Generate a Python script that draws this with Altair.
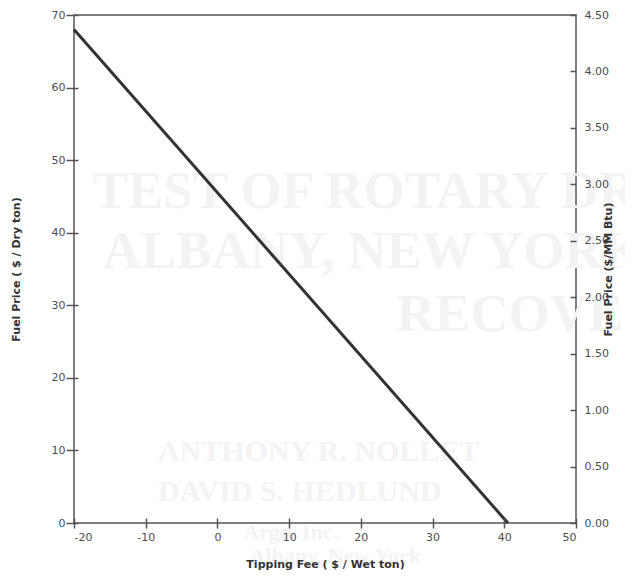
import altair as alt
import pandas as pd

# Line: fuel price vs tipping fee
tipping_fee = [-20, 40.5]
fuel_price_dry_ton = [68, 0]
fuel_price_mmbtu = [4.37, 0.0]

x_ticks = [-20, -10, 0, 10, 20, 30, 40, 50]
y_left_ticks = [0, 10, 20, 30, 40, 50, 60, 70]
y_right_ticks = [0.0, 0.5, 1.0, 1.5, 2.0, 2.5, 3.0, 3.5, 4.0, 4.5]

# faint show-through text of the scanned page
bg_text = ["TEST OF ROTARY DRYER", "ALBANY, NEW YORK", "RECOVERY",
           "ANTHONY R. NOLLET", "DAVID S. HEDLUND", "Argo, Inc.", "Albany, New York"]
bg_x = [-17.4, -16.0, 25.0, -8.3, -8.3, 3.6, 4.5]
bg_y = [45.6, 37.3, 28.7, 9.8, 4.3, -1.2, -4.5]
bg_size = [53, 53, 53, 30, 30, 22, 22]

line_df = pd.DataFrame({"fee": tipping_fee, "dry": fuel_price_dry_ton, "mmbtu": fuel_price_mmbtu})
bg_df = pd.DataFrame({"fee": bg_x, "dry": bg_y, "t": bg_text, "s": bg_size})

LABEL_FONT = "DejaVu Sans"
LABEL_COLOR = "#4d4d4d"
AXIS_COLOR = "#555555"
TITLE_COLOR = "#333333"

x_enc = alt.X(
    "fee:Q",
    scale=alt.Scale(domain=[-20, 50], nice=False, zero=False),
    axis=alt.Axis(
        values=x_ticks, offset=-5, tickSize=10, tickColor=AXIS_COLOR, tickWidth=1.5,
        domain=False, grid=False, labelPadding=3, labelFont=LABEL_FONT, labelFontSize=11,
        labelColor=LABEL_COLOR, labelExpr="datum.value + ''",
        title="Tipping Fee ( $ / Wet ton)", titleFont=LABEL_FONT,
        titleFontSize=11, titleFontWeight="bold", titleColor=TITLE_COLOR, titlePadding=16,
        zindex=2,
    ),
)

y_left_enc = alt.Y(
    "dry:Q",
    scale=alt.Scale(domain=[0, 70], nice=False),
    axis=alt.Axis(
        values=y_left_ticks, orient="left", offset=-4, tickSize=12, tickColor=AXIS_COLOR,
        tickWidth=1.5, domain=False, grid=False, labelPadding=1, labelFont=LABEL_FONT,
        labelFontSize=11, labelColor=LABEL_COLOR, title="Fuel Price ( $ / Dry ton)",
        titleFont=LABEL_FONT, titleFontSize=11, titleFontWeight="bold", titleColor=TITLE_COLOR,
        titlePadding=30, zindex=2,
    ),
)

bg_layer = alt.Chart(bg_df).mark_text(
    align="left", baseline="middle", font="Liberation Serif", fontWeight="bold",
    color="#f3f3f3",
).encode(
    x=x_enc,
    y=y_left_enc,
    text="t:N",
    size=alt.Size("s:Q", scale=None),
)

line_layer = alt.Chart(line_df).mark_line(color="#333333", strokeWidth=3).encode(
    x=x_enc,
    y=y_left_enc,
)

right_layer = alt.Chart(line_df).mark_line(opacity=0).encode(
    x=x_enc,
    y=alt.Y(
        "mmbtu:Q",
        scale=alt.Scale(domain=[0, 4.5], nice=False),
        axis=alt.Axis(
            values=y_right_ticks, orient="right", format=".2f", offset=-6, tickSize=6,
            tickColor=AXIS_COLOR, tickWidth=1.5, domain=False, grid=False, labelPadding=8,
            labelFont=LABEL_FONT, labelFontSize=11, labelColor=LABEL_COLOR,
            title="Fuel Price ($/MM Btu)", titleFont=LABEL_FONT, titleFontSize=11,
            titleFontWeight="bold", titleColor=TITLE_COLOR, titleAngle=270, titlePadding=5,
            zindex=2,
        ),
    ),
)

left_group = alt.layer(bg_layer, line_layer)

chart = alt.layer(left_group, right_layer).resolve_scale(y="independent").properties(
    width=502,
    height=508,
    autosize=alt.AutoSizeParams(type="none"),
    padding={"left": 66, "top": 7, "right": 49, "bottom": 48},
    background="white",
).configure_view(
    stroke=AXIS_COLOR,
    strokeWidth=1.5,
)

chart.save("out.html", embed_options={"renderer": "svg", "actions": False})
